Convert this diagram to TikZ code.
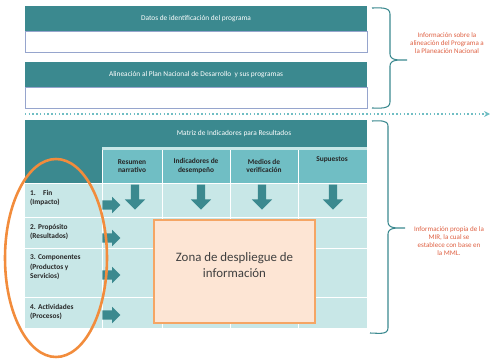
\documentclass[tikz,border=0pt]{standalone}
\usepackage{fontspec}
\setmainfont{Carlito}
\usetikzlibrary{positioning,shapes.arrows,arrows.meta}
\definecolor{tealdark}{RGB}{59,137,143}
\definecolor{tealmid}{RGB}{112,190,196}
\definecolor{teallight}{RGB}{200,231,231}
\definecolor{boxline}{RGB}{150,165,205}
\definecolor{zonefill}{RGB}{253,229,212}
\definecolor{zoneline}{RGB}{245,165,100}
\definecolor{ovalline}{RGB}{242,140,60}
\definecolor{notetext}{RGB}{222,95,65}
\newcommand{\px}{0.03cm}

\begin{document}
\begin{tikzpicture}[x=0.03cm, y=-0.03cm,
    headtext/.style={text=white, font=\fontsize{6.3}{7.5}\selectfont},
    coltext/.style={align=center, font=\bfseries\fontsize{6.3}{7.3}\selectfont, text=black!85},
    rowtext/.style={align=left, anchor=north west, font=\bfseries\fontsize{6.3}{7.8}\selectfont, text=black!85},
    notetext/.style={align=center, text=notetext, font=\fontsize{6}{7}\selectfont},
    rarrow/.style={single arrow, fill=tealdark, inner xsep=0pt, inner ysep=4.5*\px, minimum height=18*\px, single arrow head extend=3.5*\px, single arrow head indent=0pt},
    darrow/.style={single arrow, fill=tealdark, inner xsep=0pt, inner ysep=4*\px, rotate=-90, minimum height=25*\px, single arrow head extend=6*\px},
    bracket/.style={tealdark, line width=0.9pt}]
  \useasboundingbox (0,0) rectangle (496,362);

  % bloques superiores
  \fill[tealdark] (25,6) rectangle (367,31);
  \draw[boxline, fill=white] (25,31) rectangle (367,52);
  \node(datos) [headtext] at (196,18.5) {Datos de identificación del programa};
  \fill[tealdark] (25,62) rectangle (367,87);
  \draw[boxline, fill=white] (25,87) rectangle (367,108);
  \node(alin) [headtext] at (196,74.5) {Alineación al Plan Nacional de Desarrollo \ y sus programas};

  % linea punteada
  \coordinate(sepl) at (25,114);
  \coordinate(sepr) at (490,114);
  \draw[tealmid, line width=1.2pt, dotted, -{Stealth[length=5pt, width=5pt]}] (sepl) -- (sepr);

  % matriz
  \fill[teallight] (25,120) rectangle (367,328);
  \fill[tealdark] (25,120) rectangle (102,183);
  \fill[tealdark] (102,120) rectangle (367,147);
  \fill[tealmid] (102,150) rectangle (367,183);
  \foreach \xx in {102,162,230,298}
    \draw[white, line width=0.8pt] (\xx,150) -- (\xx,328);
  \foreach \yy in {183,217,248,297}
    \draw[white, line width=0.8pt] (25,\yy) -- (367,\yy);
  \node(mir) [headtext] at (234,133.5) {Matriz de Indicadores para Resultados};

  \node(resumen) [coltext] at (132,166) {Resumen\\narrativo};
  \node(indic) [coltext] at (196,166) {Indicadores de\\desempeño};
  \node(medios) [coltext] at (264,166) {Medios de\\verificación};
  \node(supuestos) [coltext] at (332,160) {Supuestos};

  \node(fin) [rowtext] at (26,186) {1.\quad Fin\\(Impacto)};
  \node(prop) [rowtext] at (26,220) {2. Propósito\\(Resultados)};
  \node(comp) [rowtext] at (26,251) {3. Componentes\\(Productos y\\Servicios)};
  \node(act) [rowtext] at (26,300) {4. Actividades\\(Procesos)};

  % flechas
  \node(ra1) [rarrow] at (109,205) {};
  \node(ra2) [rarrow] at (109,238) {};
  \node(ra3) [rarrow] at (109,275) {};
  \node(ra4) [rarrow] at (109,315) {};
  \node(da1) [darrow] at (135,195) {};
  \node(da2) [darrow] at (201,195) {};
  \node(da3) [darrow] at (262,195) {};
  \node(da4) [darrow] at (333,195) {};

  % zona
  \draw[zoneline, fill=zonefill, line width=0.9pt] (154,220) rectangle (315,323);
  \node(zona) [align=center, text=black!75, font=\fontsize{11}{14}\selectfont] at (234.5,265) {Zona de despliegue de\\información};

  % ovalo
  \draw[ovalline, line width=2.2pt] (56,258) ellipse [x radius=51, y radius=99];

  % llaves
  \draw[bracket] (372,8) to[out=0,in=90] (390,14) -- (390,54) to[out=-90,in=180] (407,60)
    to[out=180,in=90] (390,66) -- (390,102) to[out=-90,in=0] (372,108);
  \draw[bracket] (372,121) to[out=0,in=90] (388,126) -- (388,222) to[out=-90,in=180] (405,228)
    to[out=180,in=90] (388,234) -- (388,328) to[out=-90,in=0] (370,333);

  \node(nota1) [notetext] at (447,43) {Información sobre la\\alineación del Programa a\\la Planeación Nacional};
  \node(nota2) [notetext] at (449,241) {Información propia de la\\MIR, la cual se\\establece con base en\\la MML.};
\end{tikzpicture}
\end{document}
